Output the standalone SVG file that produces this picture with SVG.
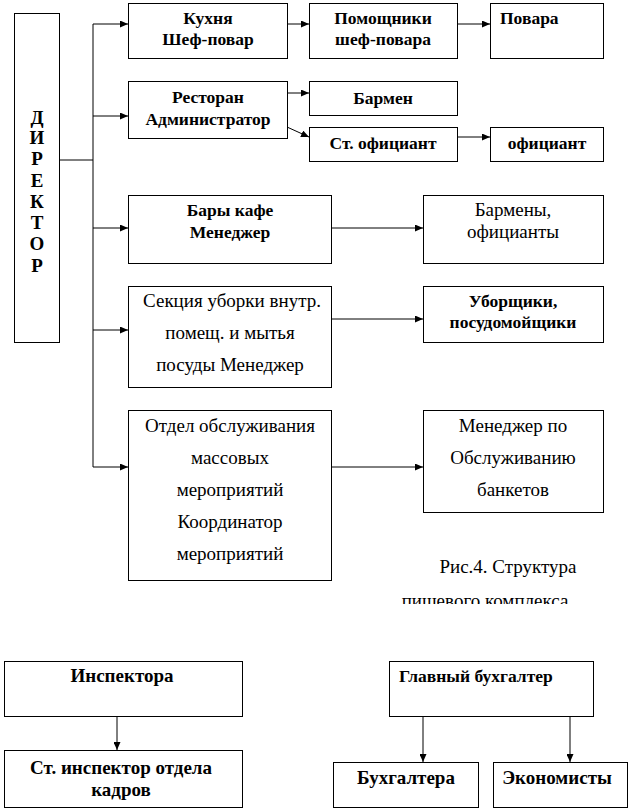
<svg xmlns="http://www.w3.org/2000/svg" width="630" height="811" viewBox="0 0 630 811">
<style>
.box{fill:#fff;stroke:#000;stroke-width:1}
.ln{fill:none;stroke:#000;stroke-width:1}
.b{font-family:"Liberation Serif","Times New Roman",serif;font-weight:bold;font-size:17.5px;fill:#000;text-anchor:middle}
.n{font-family:"Liberation Serif","Times New Roman",serif;font-size:19px;fill:#000;text-anchor:middle}
.bb{font-size:19px}
.l{text-anchor:start}
</style>
<defs>
<marker id="ar" markerUnits="userSpaceOnUse" markerWidth="8" markerHeight="7" refX="8" refY="3.5" orient="auto">
<path d="M0,0 L8,3.5 L0,7 z" fill="#000"/>
</marker>
<clipPath id="cap"><rect x="0" y="0" width="630" height="604"/></clipPath>
</defs>
<rect width="630" height="811" fill="#fff"/>
<g id="connectors">
<path class="ln" d="M59,160 H93 M93,24 V467"/>
<path class="ln" d="M93,24 H128" marker-end="url(#ar)"/>
<path class="ln" d="M93,116 H128" marker-end="url(#ar)"/>
<path class="ln" d="M93,228 H128" marker-end="url(#ar)"/>
<path class="ln" d="M93,330 H128" marker-end="url(#ar)"/>
<path class="ln" d="M93,467 H128" marker-end="url(#ar)"/>
<path class="ln" d="M287,24 H309" marker-end="url(#ar)"/>
<path class="ln" d="M457,24 H490" marker-end="url(#ar)"/>
<path class="ln" d="M287,93 H309" marker-end="url(#ar)"/>
<path class="ln" d="M287,127 L309,137" marker-end="url(#ar)"/>
<path class="ln" d="M457,137 H490" marker-end="url(#ar)"/>
<path class="ln" d="M331,228 H423" marker-end="url(#ar)"/>
<path class="ln" d="M331,319 H423" marker-end="url(#ar)"/>
<path class="ln" d="M331,467 H423" marker-end="url(#ar)"/>
<path class="ln" d="M117,716 V750" marker-end="url(#ar)"/>
<path class="ln" d="M423,716 V762" marker-end="url(#ar)"/>
<path class="ln" d="M570,716 V762" marker-end="url(#ar)"/>
</g>
<g id="director">
<rect class="box" x="14.5" y="13.5" width="45" height="329"/>
<text class="b bb" x="37" y="124">Д</text>
<text class="b bb" x="37" y="144">И</text>
<text class="b bb" x="37" y="165">Р</text>
<text class="b bb" x="37" y="187">Е</text>
<text class="b bb" x="37" y="208">К</text>
<text class="b bb" x="37" y="229">Т</text>
<text class="b bb" x="37" y="250">О</text>
<text class="b bb" x="37" y="272">Р</text>
</g>
<g id="kuhnya">
<rect class="box" x="128.5" y="3.5" width="159" height="55"/>
<text class="b" x="208" y="24">Кухня</text>
<text class="b" x="208" y="45">Шеф-повар</text>
</g>
<g id="pomoshniki">
<rect class="box" x="309.5" y="3.5" width="148" height="55"/>
<text class="b" x="383" y="24">Помощники</text>
<text class="b" x="383" y="45">шеф-повара</text>
</g>
<g id="povara">
<rect class="box" x="490.5" y="3.5" width="113" height="55"/>
<text class="b l" x="500" y="24">Повара</text>
</g>
<g id="restoran">
<rect class="box" x="128.5" y="81.5" width="159" height="57"/>
<text class="b" x="208" y="103">Ресторан</text>
<text class="b" x="208" y="125">Администратор</text>
</g>
<g id="barmen">
<rect class="box" x="309.5" y="81.5" width="148" height="34"/>
<text class="b" x="383" y="104">Бармен</text>
</g>
<g id="st-oficiant">
<rect class="box" x="309.5" y="127.5" width="148" height="34"/>
<text class="b" x="383" y="149">Ст. официант</text>
</g>
<g id="oficiant">
<rect class="box" x="490.5" y="127.5" width="113" height="34"/>
<text class="b" x="547" y="149">официант</text>
</g>
<g id="bary">
<rect class="box" x="128.5" y="195.5" width="203" height="68"/>
<text class="b" x="230" y="216">Бары кафе</text>
<text class="b" x="230" y="238">Менеджер</text>
</g>
<g id="barmeny">
<rect class="box" x="423.5" y="195.5" width="180" height="68"/>
<text class="n" x="513" y="216">Бармены,</text>
<text class="n" x="513" y="238">официанты</text>
</g>
<g id="sekciya">
<rect class="box" x="128.5" y="286.5" width="203" height="101"/>
<text class="n" x="232" y="307">Секция уборки внутр.</text>
<text class="n" x="230" y="339">помещ. и мытья</text>
<text class="n" x="230" y="371">посуды Менеджер</text>
</g>
<g id="uborshiki">
<rect class="box" x="423.5" y="286.5" width="180" height="56"/>
<text class="b" x="513" y="307">Уборщики,</text>
<text class="b" x="513" y="328">посудомойщики</text>
</g>
<g id="otdel">
<rect class="box" x="128.5" y="410.5" width="203" height="170"/>
<text class="n" x="230" y="432">Отдел обслуживания</text>
<text class="n" x="230" y="464">массовых</text>
<text class="n" x="230" y="496">мероприятий</text>
<text class="n" x="230" y="528">Координатор</text>
<text class="n" x="230" y="560">мероприятий</text>
</g>
<g id="menedzher-banket">
<rect class="box" x="423.5" y="410.5" width="180" height="102"/>
<text class="n" x="513" y="432">Менеджер по</text>
<text class="n" x="513" y="464">Обслуживанию</text>
<text class="n" x="513" y="496">банкетов</text>
</g>
<g id="caption">
<text class="n" x="508" y="573">Рис.4. Структура</text>
<text class="n" x="485" y="607" clip-path="url(#cap)">пищевого комплекса</text>
</g>
<g id="inspektora">
<rect class="box" x="4.5" y="661.5" width="238" height="55"/>
<text class="b bb" x="122" y="682">Инспектора</text>
</g>
<g id="st-inspektor">
<rect class="box" x="4.5" y="750.5" width="238" height="57"/>
<text class="b bb" x="121" y="774">Ст. инспектор отдела</text>
<text class="b bb" x="121" y="796">кадров</text>
</g>
<g id="glavbuh">
<rect class="box" x="389.5" y="661.5" width="204" height="55"/>
<text class="b l" x="399" y="682">Главный бухгалтер</text>
</g>
<g id="buhgaltera">
<rect class="box" x="333.5" y="762.5" width="145" height="45"/>
<text class="b bb" x="406" y="784">Бухгалтера</text>
</g>
<g id="ekonomisty">
<rect class="box" x="493.5" y="762.5" width="134" height="45"/>
<text class="b bb" x="557" y="784">Экономисты</text>
</g>
</svg>
